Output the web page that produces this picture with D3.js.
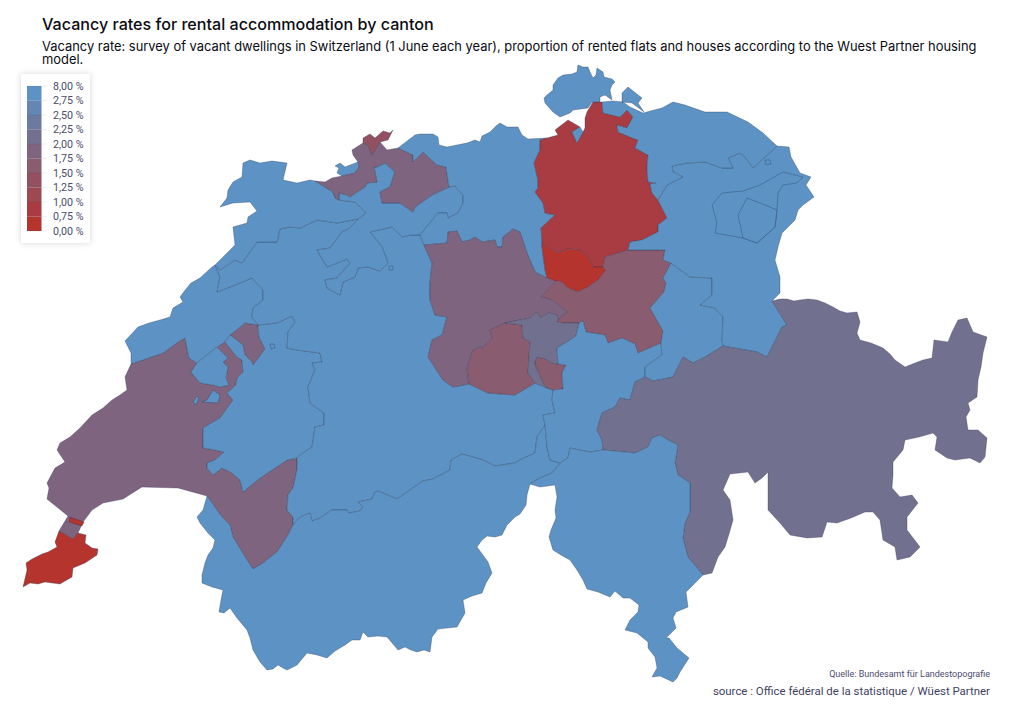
<!DOCTYPE html>
<html>
<head>
<meta charset="utf-8">
<script src="https://cdn.jsdelivr.net/npm/d3@7"></script>
<style>
  html, body { margin: 0; background: #fff; }
  svg { display: block; }
  .title { font: 500 16.1px Inter, sans-serif; fill: #0b0b12; }
  .subtitle { font: 400 12.9px Inter, sans-serif; fill: #0b0b12; }
  .legend-label { font: 400 10.7px Roboto, sans-serif; fill: #4b4b6b; }
  .credit { font: 400 9px Roboto, sans-serif; fill: #4b4b6b; text-anchor: end; }
  .source { font: 400 11.45px Roboto, sans-serif; fill: #3f3f5f; text-anchor: end; }
</style>
</head>
<body>
<svg width="1024" height="715"></svg>
<script>
// Texts
const titleText = "Vacancy rates for rental accommodation by canton";
const subtitleLines = [
  "Vacancy rate: survey of vacant dwellings in Switzerland (1 June each year), proportion of rented flats and houses according to the Wuest Partner housing",
  "model."
];
const creditText = "Quelle: Bundesamt für Landestopografie";
const sourceText = "source : Office fédéral de la statistique / Wüest Partner";

// Legend, from the lowest class to the highest
const legendLabels = ["0,00 %", "0,75 %", "1,00 %", "1,25 %", "1,50 %", "1,75 %", "2,00 %", "2,25 %", "2,50 %", "2,75 %", "8,00 %"];
const classBreaks = [0.75, 1, 1.25, 1.5, 1.75, 2, 2.25, 2.5, 2.75];
const classColors = ["#b5352e", "#a83c42", "#9e4851", "#925060", "#8a5c70", "#7e647f", "#72708f", "#6c7aa0", "#6586b2", "#5d93c4"];

// Rate per canton
const cantonCodes = ["VD", "GE", "NE", "FR", "BE", "VS", "JU", "SO", "BL", "BS", "AG", "ZH", "ZG", "SZ", "LU", "OW", "NW", "UR", "GL", "SG", "AR", "AI", "TG", "SH", "GR", "TI"];
const cantonRates = [1.9, 0.5, 3.1, 3.0, 3.2, 3.4, 3.3, 3.5, 1.9, 1.4, 3.0, 0.9, 0.4, 1.6, 1.9, 1.6, 2.2, 3.2, 3.4, 3.3, 3.0, 2.9, 3.1, 3.0, 2.1, 3.6];

const outerGE = [[78,533],[86,535],[85,543],[92,548],[98,549],[97,555],[85,563],[73,568],[72,577],[60,584],[45,582],[38,584],[30,583],[23,587],[27,570],[26,563],[32,559],[42,554],[48,552],[57,547],[55,542],[59,531]];
const geVd = [[59,531],[73,539],[78,533]];
const outerVD = [[59,531],[68,516],[47,499],[49,488],[47,483],[55,468],[65,462],[57,450],[60,443],[70,437],[80,428],[92,415],[103,408],[112,400],[120,395],[127,390],[125,377],[131,364]];
const vdNe = [[131,364],[163,353],[178,342],[185,338],[187,348],[189,358],[197,363]];
const vdEst = [[197,363],[191,372],[200,383],[213,385],[220,387],[229,385],[226,378],[228,367],[223,362],[228,358],[217,347],[225,342]];
const vdFr = [[225,342],[237,357],[242,360],[243,372],[237,378],[236,385],[227,393],[233,400],[220,418],[203,428],[203,448],[215,450],[224,452],[215,460],[207,463],[207,468],[213,475],[222,468],[232,473],[240,480],[243,492],[260,478],[275,468],[287,460],[297,458]];
const vdBe = [[297,458],[297,470],[293,488],[288,495],[287,510],[293,517],[293,525]];
const vdVs = [[293,525],[288,535],[277,552],[263,563],[253,569],[247,560],[233,537],[230,525],[222,517],[207,496]];
const lakeVD = [[207,496],[178,488],[142,487],[123,499],[103,503],[92,510],[86,518],[83,522],[78,533]];
const vully = [[230,335],[243,345],[245,355],[252,362],[253,365],[257,360],[265,349],[259,337],[258,325]];
const vullyTop = [[258,325],[245,323],[230,335]];
const outerNE = [[131,364],[131,353],[125,341],[138,327],[149,323],[160,320],[170,317],[173,308],[183,302],[180,297],[186,289],[191,283],[200,278],[212,267],[215,265]];
const neBe = [[215,265],[220,277],[217,292],[235,285],[252,278],[263,290],[263,300],[253,308],[252,317],[258,325]];
const frBe = [[258,325],[277,323],[292,316],[295,322],[288,332],[287,348],[297,350],[320,353],[322,362],[312,363],[315,370],[308,387],[310,403],[324,413],[324,425],[315,427],[312,447],[300,455],[297,458]];
const outerJU = [[215,265],[235,245],[233,227],[247,223],[248,217],[257,211],[250,202],[233,203],[220,207],[227,198],[228,190],[233,182],[242,177],[243,163],[250,160],[260,163],[272,161],[287,163],[283,180],[297,183],[310,180],[315,181]];
const juBe = [[215,265],[220,270],[235,260],[242,263],[257,242],[277,242],[280,229],[290,227],[300,228],[317,220],[337,223],[358,219]];
const juBl = [[315,181],[325,187],[333,192],[335,198],[339,200]];
const juSo = [[339,200],[355,202],[360,207],[366,213],[360,218],[358,219]];
const beSo = [[358,219],[350,228],[342,232],[330,248],[317,250],[327,267],[347,259],[350,263],[337,278],[325,280],[327,288],[340,295],[343,282],[355,277],[358,268],[368,267],[380,271],[388,263],[382,247],[370,232],[392,227],[402,237],[410,235],[420,235]];
const soAg = [[420,235],[438,213],[447,213],[448,218],[458,213],[463,203],[463,195],[455,186],[449,187]];
const blSo = [[449,187],[432,195],[415,207],[413,212],[400,203],[382,203],[380,192],[390,187],[395,172],[385,163],[377,167],[374,167],[377,182],[367,183],[365,187],[357,192],[350,197],[347,195],[339,193],[339,200]];
const outerBL = [[315,181],[325,182],[332,178],[342,176],[355,173],[359,167],[358,162],[353,155],[352,150],[363,143],[368,145],[372,155],[380,142],[387,150],[398,148]];
const blAg = [[398,148],[413,155],[413,162],[423,152],[437,165],[446,167],[449,187]];
const outerAG = [[398,148],[415,135],[420,134],[433,134],[438,137],[439,145],[447,147],[457,145],[467,143],[475,140],[480,142],[482,136],[490,132],[496,126],[500,123],[507,127],[518,127],[522,135],[528,139],[547,138]];
const outerZH = [[547,138],[558,135],[555,130],[568,120],[580,127],[572,132],[577,143],[583,132],[585,128],[585,118],[587,112],[593,102],[602,102]];
const zhTg = [[602,102],[603,113],[620,117],[627,110],[633,117],[627,128],[617,125],[618,132],[630,137],[638,140],[635,148],[648,155],[647,168],[648,182],[656,183],[650,184],[652,193],[658,200]];
const zhSg = [[658,200],[667,218],[658,225],[658,232],[642,240],[630,242],[628,250]];
const zhSz = [[628,250],[605,257],[603,267]];
const zgZh = [[603,267],[593,267],[588,257],[580,250],[567,249],[558,253],[545,245],[542,242]];
const zhWest = [[542,242],[541,228],[555,215],[545,213],[543,203],[535,192],[538,188],[538,180],[534,163],[540,150],[540,140],[547,138]];
const zgSz = [[603,267],[606,270],[598,280],[588,287],[578,292],[568,288],[562,282]];
const luTop = [[424,245],[447,243],[448,232],[457,231],[462,242],[470,240],[475,237],[482,242],[495,240],[497,247],[502,247],[503,237],[513,229],[520,232],[527,253],[535,272],[547,278]];
const szSg = [[628,250],[665,250],[663,260],[671,263]];
const szGl = [[671,263],[663,278],[666,283],[664,292],[650,308],[658,322],[663,331],[661,343]];
const szUr = [[661,343],[638,353],[635,344],[622,338],[608,343],[605,335],[586,332],[583,321],[579,323]];
const szNw = [[579,323],[563,323],[557,322],[558,319]];
const luSz = [[558,319],[567,312],[552,300],[541,297],[555,281]];
const luNw = [[558,319],[557,315],[549,313],[540,318],[537,312],[530,318],[505,323]];
const luOw = [[505,323],[490,330],[492,338],[483,348],[480,347],[473,350],[467,368],[469,384]];
const beLu = [[424,245],[432,263],[430,282],[430,300],[435,315],[447,317],[442,335],[432,340],[428,357],[443,380],[453,387],[469,384]];
const beOw = [[469,384],[488,393],[515,395],[535,383]];
const owNw = [[535,383],[528,373],[530,342],[523,338],[522,325],[505,323]];
const nwUr = [[579,323],[576,336],[567,342],[557,348],[558,364]];
const nwExclave = [[558,364],[552,363],[546,359],[537,357],[535,361],[535,365],[538,372],[543,383],[547,388]];
const beUr = [[553,390],[552,400],[555,413],[543,415],[545,425]];
const urGl = [[661,343],[662,355],[645,367],[645,377]];
const grUr = [[645,377],[635,382],[630,400],[620,398],[615,407],[602,413],[597,430],[602,440],[603,450]];
const tiUr = [[603,450],[590,452],[570,448],[568,458],[560,463]];
const vsUr = [[560,463],[550,460],[547,447],[545,425]];
const vsTi = [[530,484],[540,478],[552,473],[560,463]];
const beVs = [[293,525],[300,517],[310,513],[312,521],[320,518],[332,510],[347,510],[349,513],[360,511],[363,507],[358,502],[372,499],[375,492],[378,491],[397,499],[423,481],[433,479],[450,470],[451,460],[462,454],[483,460],[495,466],[515,463],[520,460],[535,453],[537,437],[545,425]];
const outerVS = [[207,496],[203,510],[197,517],[200,523],[208,533],[215,540],[213,548],[208,555],[205,563],[202,575],[202,583],[212,587],[223,590],[221,600],[219,612],[224,613],[230,608],[237,618],[247,630],[250,638],[253,650],[260,662],[267,670],[273,669],[278,665],[283,668],[287,670],[297,665],[307,653],[317,655],[327,658],[335,651],[345,645],[352,640],[360,640],[363,632],[368,637],[378,636],[387,637],[393,644],[398,650],[405,647],[411,650],[417,652],[424,650],[430,652],[432,637],[438,629],[447,628],[457,627],[461,620],[465,613],[463,600],[472,596],[482,593],[486,583],[492,573],[488,562],[477,547],[482,540],[487,536],[495,537],[502,535],[507,525],[515,517],[520,514],[526,505],[527,495],[530,484]];
const outerTI = [[530,484],[540,487],[555,485],[557,497],[555,510],[556,518],[551,530],[549,537],[553,550],[561,555],[570,560],[577,570],[583,580],[587,589],[598,592],[610,597],[615,591],[623,598],[630,598],[639,605],[638,612],[630,620],[625,630],[637,633],[648,642],[648,648],[655,657],[657,668],[652,677],[660,676],[673,682],[677,678],[680,672],[689,658],[677,648],[669,638],[666,638],[676,628],[673,618],[676,612],[688,607],[686,592],[695,583],[703,575]];
const grTi = [[703,575],[688,557],[683,538],[685,523],[690,512],[690,483],[678,475],[675,463],[678,445],[668,440],[660,435],[652,438],[648,447],[635,453],[603,450]];
const outerGR = [[772,301],[780,299],[787,299],[794,301],[800,300],[808,299],[817,300],[825,303],[833,307],[840,311],[847,313],[857,312],[860,322],[857,333],[860,340],[871,343],[883,348],[890,354],[895,360],[905,367],[915,363],[923,360],[932,358],[934,340],[948,342],[952,332],[958,320],[967,318],[973,332],[987,337],[985,345],[983,353],[981,367],[978,380],[977,397],[968,403],[970,410],[966,417],[968,430],[978,430],[987,438],[985,457],[980,463],[970,458],[962,459],[955,460],[947,458],[935,450],[937,437],[933,433],[919,437],[905,440],[903,450],[893,462],[893,475],[892,488],[900,497],[912,495],[918,503],[907,517],[907,530],[920,547],[910,557],[897,560],[895,547],[883,540],[880,520],[873,512],[865,512],[851,518],[837,523],[827,522],[822,537],[807,538],[790,535],[780,523],[768,510],[768,472],[762,478],[755,483],[748,472],[730,474],[723,490],[730,500],[733,520],[729,534],[725,547],[718,557],[712,573],[703,575]];
const grGl = [[645,377],[653,381],[673,377],[683,357],[693,363],[705,357],[723,346]];
const grSg = [[772,301],[787,325],[782,327],[772,347],[767,357],[757,352],[723,346]];
const glSg = [[723,346],[722,340],[723,317],[715,308],[700,305],[712,295],[712,278],[690,277],[671,263]];
const outerSG = [[777,146],[789,147],[791,157],[800,173],[811,177],[806,185],[814,197],[803,205],[798,210],[795,220],[782,233],[778,247],[775,260],[780,277],[780,293],[772,301]];
const tgSg = [[658,200],[667,185],[683,177],[673,172],[672,166],[687,163],[705,162],[722,168],[733,168],[728,158],[740,153],[745,157],[753,168],[777,146]];
const outerTG = [[602,102],[613,101],[623,102],[630,107],[643,113],[662,108],[673,102],[685,105],[705,112],[727,112],[748,122],[763,133],[777,146]];

const rev = arc => arc.slice().reverse();

// Rings of every canton, in cantonCodes order; later ones are drawn on top
const cantonRings = [
  // VD
  [[outerVD, vdNe, vdEst, vdFr, vdBe, vdVs, lakeVD, rev(geVd)], [vully, vullyTop]],
  // GE, with its strip across Vaud
  [[outerGE, geVd], [[[70,517],[84,522],[82,526],[69,522]]]],
  // NE
  [[outerNE, neBe, vullyTop, [[225,342],[217,347]], rev(vdNe)]],
  // FR, with Estavayer and the small pockets inside Vaud
  [[vdFr.slice(0,1), vully, frBe, rev(vdFr)],
   [vdEst.slice(0,1), [[217,347],[228,358],[223,362],[228,367],[226,378],[229,385],[220,387],[213,385],[200,383],[191,372]]],
   [[[213,390],[220,395],[218,403],[202,402],[207,400]]],
   [[[197,396],[199,398],[196,405],[193,402]]],
   [[[270,344],[274,344],[275,348],[271,349]]],
   [[[290,337],[294,337],[293,341],[289,341]]]],
  // BE
  [[juBe, beSo, [[424,245]], beLu, beOw, [[547,388],[553,390]], beUr, rev(beVs), rev(vdBe), rev(frBe), rev(neBe)]],
  // VS
  [[vdVs, outerVS, vsTi, vsUr, rev(beVs)]],
  // JU
  [[outerJU, juBl, juSo, rev(juBe)]],
  // SO, with its two pieces on the French border
  [[juSo, beSo, soAg, blSo],
   [[[326,185],[330,181],[339,180],[342,185],[337,189],[328,189]]],
   [[[335,166],[340,163],[345,167],[358,162],[359,167],[355,173],[342,176],[337,173],[339,168]]],
   [[[389,266],[393,266],[393,270],[389,270]]]],
  // BL
  [[outerBL, blAg, blSo, rev(juBl)]],
  // BS
  [[[[363,143],[363,138],[370,134],[375,138],[383,131],[390,133],[393,130],[388,140],[380,142],[372,155],[368,145]]]],
  // AG
  [[outerAG, rev(zhWest), [[542,247],[545,270],[547,278]], rev(luTop), [[420,235]], soAg, rev(blAg)]],
  // ZH
  [[outerZH, zhTg, zhSg, zhSz, zgZh, zhWest]],
  // ZG
  [[rev(zgZh), zgSz, [[555,281],[547,278],[545,270],[542,247]]]],
  // SZ
  [[szSg, szGl, szUr, szNw, luSz, [[562,282]], rev(zgSz), rev(zhSz).slice(0,2)]],
  // LU
  [[luTop, [[555,281]], rev(luSz), luNw, luOw, rev(beLu)]],
  // OW, with Engelberg
  [[rev(luOw), rev(owNw), rev(beOw)],
   [rev(nwExclave), [[566,365],[562,373],[563,389],[553,390]]]],
  // NW
  [[rev(luNw), rev(szNw), nwUr, nwExclave, [[535,383]], owNw]],
  // UR
  [[rev(szUr), urGl, grUr, tiUr, vsUr, rev(beUr), [[563,389],[562,373],[566,365]], rev(nwUr)]],
  // GL
  [[szGl, urGl, grGl, glSg]],
  // SG
  [[outerSG, grSg, glSg, rev(szSg), rev(zhSg), tgSg]],
  // AR
  [[[[712,205],[722,193],[743,191],[760,185],[783,172],[803,177],[797,183],[783,185],[778,193],[777,210],[775,227],[757,243],[743,238],[715,233],[717,223]]]],
  // AI
  [[[[747,198],[760,203],[777,210],[775,227],[757,243],[743,238],[738,215]]]],
  // TG
  [[outerTG, rev(tgSg), rev(zhTg)], [[[765,160],[770,160],[771,164],[766,165]]]],
  // SH, in three pieces
  [[[[544,98],[547,95],[553,90],[553,85],[558,78],[563,75],[572,74],[577,72],[578,65],[583,67],[588,67],[590,72],[593,78],[596,75],[597,68],[603,72],[604,77],[612,79],[615,82],[612,85],[610,90],[612,100],[605,95],[600,97],[600,102],[592,102],[588,108],[573,110],[570,113],[560,117],[553,112],[545,103]]],
   [[[622,93],[628,87],[642,98],[638,103],[644,112],[632,103],[622,102]]],
   [[[572,132],[577,143],[583,132],[580,127]]]],
  // GR
  [[outerGR, grTi, rev(grUr), grGl, rev(grSg)]],
  // TI
  [[outerTI, grTi, tiUr, rev(vsTi)]]
];

// Build one GeoJSON feature per canton
const features = cantonCodes.map((code, i) => ({
  type: "Feature",
  properties: { code: code, rate: cantonRates[i] },
  geometry: {
    type: "MultiPolygon",
    coordinates: cantonRings[i].map(ring => {
      const points = ring.flat();
      return [points.concat([points[0]])];
    })
  }
}));
const cantons = { type: "FeatureCollection", features: features };

const svg = d3.select("svg");

// Title
svg.append("text").attr("class", "title").attr("x", 42).attr("y", 30).text(titleText);
svg.selectAll(".subtitle")
  .data(subtitleLines)
  .enter().append("text")
    .attr("class", "subtitle")
    .attr("x", 42)
    .attr("y", (d, i) => 51 + i * 13)
    .text(d => d);

// Map
const color = d3.scaleThreshold().domain(classBreaks).range(classColors);
const projection = d3.geoIdentity().fitExtent([[23, 65], [987, 682]], cantons);
const path = d3.geoPath(projection);

svg.append("g")
  .selectAll("path")
  .data(cantons.features)
  .enter().append("path")
    .attr("d", path)
    .attr("fill", d => color(d.properties.rate))
    .attr("stroke", "#1d2c4c")
    .attr("stroke-opacity", 0.38)
    .attr("stroke-width", 0.8)
    .attr("stroke-linejoin", "round");

// Legend
const legendScale = d3.scalePoint()
  .domain(rev(legendLabels))
  .range([86, 231]);

const legend = svg.append("g");
legend.append("rect")
  .attr("x", 21).attr("y", 74)
  .attr("width", 69).attr("height", 169)
  .attr("fill", "#fff")
  .style("filter", "drop-shadow(0 0 3px rgba(0,0,0,0.16))");

legend.selectAll(".swatch")
  .data(classColors)
  .enter().append("rect")
    .attr("class", "swatch")
    .attr("x", 27)
    .attr("width", 14.5)
    .attr("y", (d, i) => legendScale(legendLabels[i + 1]))
    .attr("height", (d, i) => legendScale(legendLabels[i]) - legendScale(legendLabels[i + 1]))
    .attr("fill", d => d);

legend.selectAll(".tick")
  .data(legendLabels)
  .enter().append("line")
    .attr("class", "tick")
    .attr("x1", 27).attr("x2", 47)
    .attr("y1", d => legendScale(d))
    .attr("y2", d => legendScale(d))
    .attr("stroke", "#1d2c4c")
    .attr("stroke-opacity", 0.12)
    .attr("stroke-width", 0.7);

legend.selectAll(".legend-label")
  .data(legendLabels)
  .enter().append("text")
    .attr("class", "legend-label")
    .attr("x", 53)
    .attr("y", d => legendScale(d) + 3.7)
    .text(d => d);

// Credits
svg.append("text").attr("class", "credit").attr("x", 990).attr("y", 677).text(creditText);
svg.append("text").attr("class", "source").attr("x", 990).attr("y", 695).text(sourceText);
</script>
</body>
</html>
